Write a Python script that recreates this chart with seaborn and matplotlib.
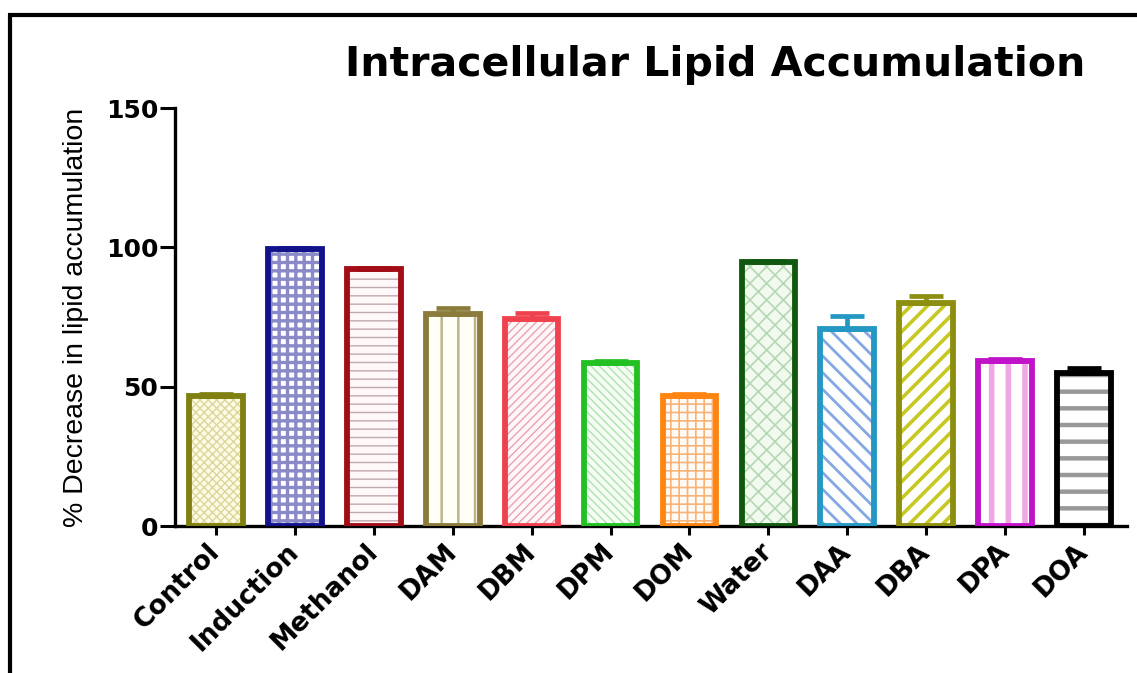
import numpy as np
import pandas as pd
import matplotlib
matplotlib.use("Agg")
import matplotlib.pyplot as plt
from matplotlib.lines import Line2D
import seaborn as sns

# Treatment groups and their mean values with upper error (SEM)
groups = ["Control", "Induction", "Methanol", "DAM", "DBM", "DPM",
          "DOM", "Water", "DAA", "DBA", "DPA", "DOA"]
means = [46.5, 99.3, 92.1, 76.2, 74.2, 58.4, 46.6, 94.7, 70.6, 80.0, 59.2, 54.8]
errors = [0.8, 0.5, 0.5, 1.9, 2.1, 0.8, 0.7, 0.5, 4.9, 2.7, 0.7, 1.8]
yticks = [0, 50, 100, 150]

# Per-bar styling: outline, fill, hatch colour, hatch pattern, hatch width
edge_colors = ["#808012", "#12128a", "#a20c16", "#8c7c3c", "#f0424e", "#22c022",
               "#ff8412", "#10580f", "#2298c2", "#8e8e10", "#c012c8", "#000000"]
fill_colors = ["#fdfbe4", "#ffffff", "#fff8f8", "#fffff8", "#fff6f8", "#f4fcf4",
               "#fffaf4", "#f2faf0", "#ffffff", "#ffffff", "#ffffff", "#ffffff"]
hatch_colors = ["#dcd69c", "#8a8ac8", "#c0a8b0", "#bdb48a", "#e8a4b4", "#aee2ae",
                "#f8b478", "#b4d8b4", "#84a8e4", "#c8c824", "#f0a8e4", "#999999"]
hatches = ["xxxx", "++", "--", "|", "////", "\\\\\\\\",
           "++", "xx", "\\\\", "//", "|", "-"]
hatch_widths = [1.0, 2.4, 1.0, 1.8, 1.0, 1.0, 1.2, 1.2, 2.0, 2.6, 4.0, 3.2]

sns.set_theme(style="ticks")
plt.rcParams["font.family"] = ["DejaVu Sans"]
plt.rcParams["text.color"] = "black"

fig = plt.figure(figsize=(11.37, 6.73), dpi=100)
ax = fig.add_axes([175 / 1137, 1 - 526 / 673, (1127 - 175) / 1137, (526 - 108) / 673])

df = pd.DataFrame({"group": groups, "value": means})

# Hatched fills
sns.barplot(data=df, x="group", y="value", hue="group", palette=fill_colors,
            width=0.68, linewidth=0, saturation=1, errorbar=None, legend=False, ax=ax)
fill_patches = list(ax.patches)
for p, h, hc, hw in zip(fill_patches, hatches, hatch_colors, hatch_widths):
    p.set_hatch(h)
    p.set_edgecolor(hc)
    p.set_linewidth(0)
    if hasattr(p, "set_hatch_linewidth"):
        p.set_hatch_linewidth(hw)
    p.set_zorder(1)

# Thick coloured outlines
sns.barplot(data=df, x="group", y="value", hue="group", palette=edge_colors,
            width=0.68, linewidth=4.2, fill=False, saturation=1, errorbar=None,
            legend=False, ax=ax)
outline_patches = ax.patches[len(fill_patches):]
for p in outline_patches:
    p.set_zorder(3)
    p.set_joinstyle("miter")

# Upper error bars in the bar colour
for p, m, e, c in zip(outline_patches, means, errors, edge_colors):
    xc = p.get_x() + p.get_width() / 2
    ax.errorbar([xc], [m], yerr=[[0], [e]], fmt="none", ecolor=c,
                elinewidth=3.4, capsize=12, capthick=3.4, zorder=2)

ax.set_xlim(-0.52, 11.545)
ax.set_ylim(0, 150)
ax.set_yticks(yticks)
ax.set_xticks(range(len(groups)))
ax.set_xticklabels(groups, rotation=45, ha="right", va="center",
                   rotation_mode="anchor", fontweight="bold", fontsize=19)
ax.set_yticklabels([str(v) for v in yticks], fontweight="bold", fontsize=18)

sns.despine(ax=ax)
for s in ("left", "bottom"):
    ax.spines[s].set_linewidth(2.4)
    ax.spines[s].set_color("black")
ax.tick_params(axis="y", length=11, width=2.2, pad=1, colors="black")
ax.tick_params(axis="x", length=6.5, width=2.2, pad=9, colors="black")

ax.set_xlabel("")
ax.set_ylabel("% Decrease in lipid accumulation", fontsize=20.5, color="black",
              family=["Liberation Sans", "DejaVu Sans"], labelpad=12)

fig.text(715 / 1137, 1 - 65 / 673, "Intracellular Lipid Accumulation",
         ha="center", va="center", fontsize=29.5, fontweight="bold", color="black")

# Frame lines along top and left of the figure
fig.add_artist(Line2D([9.5 / 1137, 9.5 / 1137], [0, 1 - 15 / 673],
                      color="black", linewidth=3.0, solid_capstyle="butt",
                      transform=fig.transFigure))
fig.add_artist(Line2D([8 / 1137, 1.0], [1 - 15 / 673, 1 - 15 / 673],
                      color="black", linewidth=3.0, solid_capstyle="butt",
                      transform=fig.transFigure))

fig.savefig("out.png", dpi=100)
